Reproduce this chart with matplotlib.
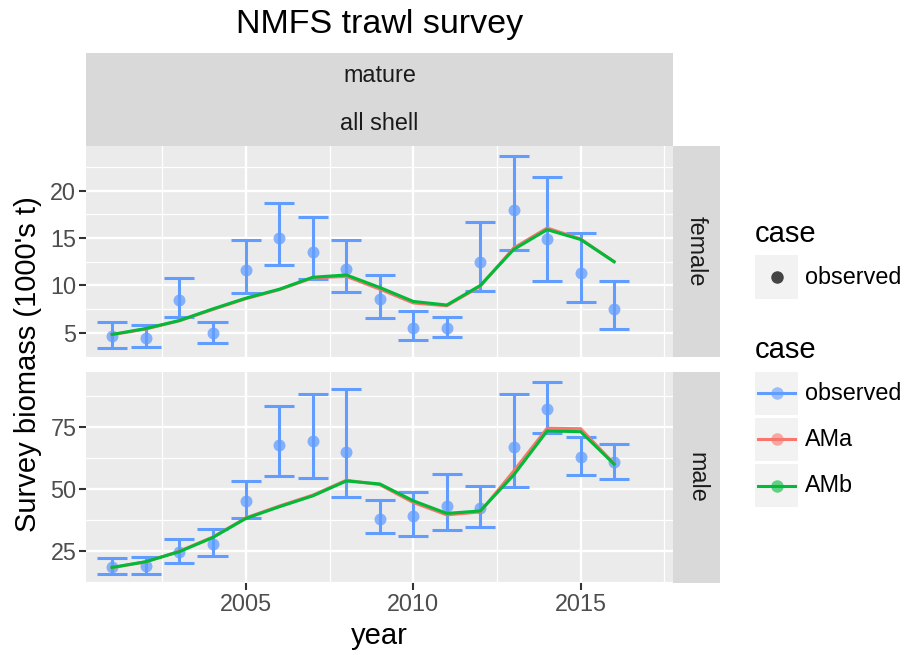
import numpy as np
import matplotlib
matplotlib.use("Agg")
import matplotlib.pyplot as plt
from matplotlib.patches import Rectangle

plt.rcParams['font.family'] = ['Liberation Sans', 'DejaVu Sans']

years = np.arange(2001, 2017)

# female survey biomass (1000's t)
fem_obs = [4.65, 4.48, 8.49, 4.93, 11.63, 15.05, 13.55, 11.77, 8.56, 5.52, 5.52, 12.5, 17.98, 14.9, 11.28, 7.55]
fem_lo = [3.43, 3.5, 6.64, 3.95, 9.19, 12.12, 10.65, 9.33, 6.6, 4.2, 4.58, 9.46, 13.72, 10.48, 8.24, 5.45]
fem_hi = [6.15, 5.84, 10.83, 6.12, 14.77, 18.74, 17.21, 14.84, 11.14, 7.3, 6.64, 16.65, 23.66, 21.46, 15.53, 10.44]
fem_ama = [4.8, 5.4, 6.25, 7.45, 8.6, 9.55, 10.8, 10.95, 9.6, 8.15, 7.85, 9.9, 13.95, 16.05, 14.9, 12.5]
fem_amb = [4.83, 5.45, 6.29, 7.51, 8.66, 9.6, 10.86, 11.1, 9.78, 8.31, 7.93, 9.99, 13.79, 15.88, 14.84, 12.5]

# male survey biomass (1000's t)
male_obs = [18.67, 18.94, 24.73, 27.83, 45.19, 67.8, 69.4, 64.8, 38.0, 39.0, 43.3, 42.2, 67.0, 82.5, 62.8, 60.8]
male_lo = [15.58, 15.58, 20.29, 23.12, 38.19, 55.15, 54.6, 46.67, 32.4, 31.06, 33.48, 34.56, 50.98, 72.64, 55.82, 54.2]
male_hi = [22.3, 22.44, 29.71, 33.88, 53.26, 83.55, 88.39, 90.4, 45.46, 48.96, 56.09, 51.38, 88.26, 93.37, 71.03, 68.2]
male_ama = [18.3, 20.6, 24.9, 30.6, 38.4, 43.2, 47.6, 53.6, 51.8, 44.6, 39.6, 40.8, 57.3, 74.6, 74.4, 60.3]
male_amb = [18.4, 20.7, 24.7, 30.4, 38.2, 42.9, 47.3, 53.3, 52.1, 45.3, 40.2, 41.2, 55.7, 73.5, 73.2, 60.1]

cases = ["observed", "AMa", "AMb"]
case_cols = {"observed": "#619CFF", "AMa": "#F8766D", "AMb": "#00BA38"}

W, H = 909, 655
fig = plt.figure(figsize=(W / 100, H / 100), dpi=100)


def px_axes(x0, y0, x1, y1, **kw):
    # pixel box (top-left origin) -> figure axes
    return fig.add_axes([x0 / W, 1 - y1 / H, (x1 - x0) / W, (y1 - y0) / H], **kw)


def panel(ax, obs, lo, hi, ama, amb, ylim, major, minor):
    ax.set_facecolor("#EBEBEB")
    ax.set_xlim(2000.22, 2017.76)
    ax.set_ylim(*ylim)
    ax.set_xticks([2005, 2010, 2015])
    ax.set_xticks([2002.5, 2007.5, 2012.5, 2017.5], minor=True)
    ax.set_yticks(major)
    ax.set_yticks(minor, minor=True)
    ax.grid(True, which="major", color="white", lw=1.7)
    ax.grid(True, which="minor", color="white", lw=0.9)
    ax.set_axisbelow(True)
    for s in ax.spines.values():
        s.set_visible(False)
    ax.tick_params(which="major", length=5, width=1.5, color="#333333",
                   labelsize=16.8, labelcolor="#4D4D4D", pad=2)
    ax.tick_params(which="minor", length=0)
    c = case_cols["observed"]
    ax.vlines(years, lo, hi, color=c, lw=2.2, zorder=2)
    ax.hlines(lo, years - 0.45, years + 0.45, color=c, lw=2.2, zorder=2)
    ax.hlines(hi, years - 0.45, years + 0.45, color=c, lw=2.2, zorder=2)
    ax.plot(years, obs, "o", color=c, ms=8.6, alpha=0.75, mec="none", zorder=3)
    ax.plot(years, ama, color=case_cols["AMa"], lw=2.2, zorder=4)
    ax.plot(years, amb, color=case_cols["AMb"], lw=2.2, zorder=5)


ax_f = px_axes(86, 146, 673, 357)
panel(ax_f, fem_obs, fem_lo, fem_hi, fem_ama, fem_amb, (2.45, 24.7),
      [5, 10, 15, 20], [2.5, 7.5, 12.5, 17.5, 22.5])
ax_f.tick_params(axis="x", which="both", length=0, labelbottom=False)

ax_m = px_axes(86, 372, 673, 583)
panel(ax_m, male_obs, male_lo, male_hi, male_ama, male_amb, (12.1, 97.3),
      [25, 50, 75], [12.5, 37.5, 62.5, 87.5])

# strips and texts drawn on an overlay in pixel coordinates
ov = fig.add_axes([0, 0, 1, 1], facecolor="none")
ov.set_xlim(0, W)
ov.set_ylim(H, 0)
ov.axis("off")

ov.add_patch(Rectangle((86, 53), 587, 93, color="#D9D9D9", lw=0))
ov.text(379.5, 76, "mature", ha="center", va="center", fontsize=16.8, color="#1A1A1A")
ov.text(379.5, 123, "all shell", ha="center", va="center", fontsize=16.8, color="#1A1A1A")
ov.add_patch(Rectangle((673, 146), 47, 211, color="#D9D9D9", lw=0))
ov.add_patch(Rectangle((673, 372), 47, 211, color="#D9D9D9", lw=0))
ov.text(696.5, 251.5, "female", ha="center", va="center", rotation=-90, fontsize=16.8, color="#1A1A1A")
ov.text(696.5, 477.5, "male", ha="center", va="center", rotation=-90, fontsize=16.8, color="#1A1A1A")

ov.text(379.5, 25, "NMFS trawl survey", ha="center", va="center", fontsize=24.5)
ov.text(379.5, 636, "year", ha="center", va="center", fontsize=21)
ov.text(28, 364.5, "Survey biomass (1000's t)", ha="center", va="center", rotation=90, fontsize=21)

# legend 1: observed points
ov.text(755, 234, "case", ha="left", va="center", fontsize=21)
ov.add_patch(Rectangle((755, 255), 43, 44, color="#F2F2F2", lw=0))
ov.plot([776.5], [277], "o", color="#444444", ms=9, mec="none")
ov.text(805, 277, "observed", ha="left", va="center", fontsize=16.8)

# legend 2: cases
ov.text(755, 350, "case", ha="left", va="center", fontsize=21)
for i, name in enumerate(cases):
    yc = 393 + i * 46.3
    ov.add_patch(Rectangle((755, yc - 21.5), 43, 43, color="#F2F2F2", lw=0))
    ov.plot([758, 795], [yc, yc], color=case_cols[name], lw=2.2)
    ov.plot([776.5], [yc], "o", color=case_cols[name], ms=9, alpha=0.6, mec="none")
    ov.text(805, yc, name, ha="left", va="center", fontsize=16.8)

fig.savefig("out.png", dpi=100)
